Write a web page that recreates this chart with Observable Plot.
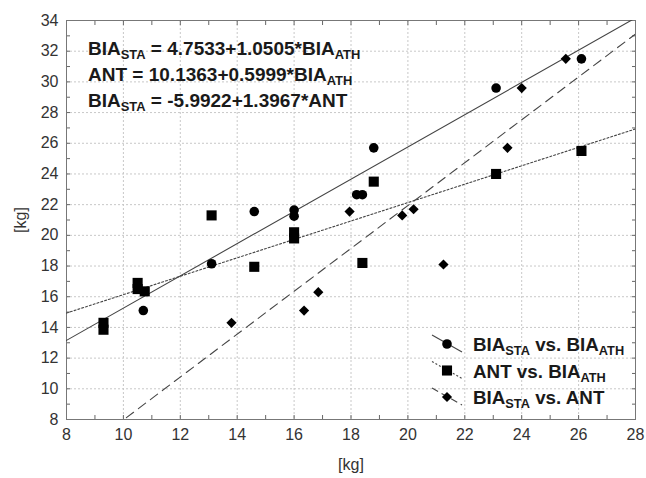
<!DOCTYPE html>
<html>
<head>
<meta charset="utf-8">
<script src="https://cdn.jsdelivr.net/npm/d3@7"></script>
<script src="https://cdn.jsdelivr.net/npm/@observablehq/plot@0.6"></script>
<style>
  html, body { margin: 0; padding: 0; background: #fff; }
  svg { display: block; }
</style>
</head>
<body>
<div id="chart"></div>
<script>
// BIA_STA vs. BIA_ATH (circles)
const circleX = [10.7, 13.1, 14.6, 16.0, 16.0, 18.2, 18.4, 18.8, 23.1, 26.1];
const circleY = [15.1, 18.15, 21.55, 21.65, 21.25, 22.65, 22.65, 25.7, 29.6, 31.5];
// ANT vs. BIA_ATH (squares)
const squareX = [9.3, 9.3, 10.5, 10.5, 10.75, 13.1, 14.6, 16.0, 16.0, 18.4, 18.8, 23.1, 26.1];
const squareY = [14.3, 13.85, 16.9, 16.5, 16.35, 21.3, 17.95, 20.2, 19.8, 18.2, 23.5, 24.0, 25.5];
// BIA_STA vs. ANT (diamonds)
const diamondX = [13.8, 16.35, 16.85, 17.95, 19.8, 20.2, 21.25, 23.5, 24.0, 25.55];
const diamondY = [14.3, 15.1, 16.3, 21.55, 21.3, 21.7, 18.1, 25.7, 29.6, 31.5];

// regression equations
const eqY = [["BIA", "STA"], ["ANT", ""], ["BIA", "STA"]];
const eqX = [["BIA", "ATH"], ["BIA", "ATH"], ["ANT", ""]];
const intercepts = [4.7533, 10.1363, -5.9922];
const slopes = [1.0505, 0.5999, 1.3967];
const lineDash = ["none", "2,2", "9,6"];
const legendDash = [null, "2,2", "7,4"];
const symbols = [d3.symbolCircle, d3.symbolSquare, d3.symbolDiamond2];
const symbolR = [4.8, 5.7, 4.6];

const xTicks = d3.range(8, 29, 2);
const yTicks = d3.range(8, 35, 2);
const xDomain = [8, 28];
const yDomain = [8, 34];

const pts = [
  ...circleX.map((x, i) => ({x, y: circleY[i], s: 0})),
  ...squareX.map((x, i) => ({x, y: squareY[i], s: 1})),
  ...diamondX.map((x, i) => ({x, y: diamondY[i], s: 2}))
];
const fitLines = [];
intercepts.forEach((a, k) => xDomain.forEach(x => fitLines.push({k, x, y: a + slopes[k] * x})));

const W = 646, H = 478;
const mL = 66, mR = 11, mT = 20, mB = 59;
const axisFont = "Liberation Sans, Arial, sans-serif";

const marks = [
  Plot.gridX(xTicks, {stroke: "#c8c8c8", strokeOpacity: 1, strokeDasharray: "2,2"}),
  Plot.gridY(yTicks, {stroke: "#c8c8c8", strokeOpacity: 1, strokeDasharray: "2,2"}),
  Plot.axisX(d3.range(8, 29, 1), {anchor: "bottom", tickSize: -4, text: null, stroke: "#666", label: null}),
  Plot.axisX(d3.range(8, 29, 1), {anchor: "top", tickSize: -4, text: null, stroke: "#666", label: null}),
  Plot.axisY(d3.range(8, 35, 1), {anchor: "left", tickSize: -4, text: null, stroke: "#666", label: null}),
  Plot.axisY(d3.range(8, 35, 1), {anchor: "right", tickSize: -4, text: null, stroke: "#666", label: null}),
  Plot.axisX(xTicks, {anchor: "bottom", tickSize: 0, tickPadding: 9, fontSize: 16, fill: "#333",
    label: "[kg]", labelAnchor: "center", labelArrow: "none", labelOffset: 50}),
  Plot.axisY(yTicks, {anchor: "left", tickSize: 0, tickPadding: 8, fontSize: 16, fill: "#333",
    label: "[kg]", labelAnchor: "center", labelArrow: "none", labelOffset: 52}),
  Plot.frame({stroke: "#777"}),
  ...intercepts.map((a, k) => Plot.line(fitLines.filter(d => d.k === k), {
    x: "x", y: "y", stroke: "#444", strokeWidth: 1.1, strokeDasharray: lineDash[k], clip: true
  })),
  Plot.dot(pts.filter(d => d.s === 0), {x: "x", y: "y", symbol: "circle", r: symbolR[0], fill: "#000", stroke: "none"}),
  Plot.dot(pts.filter(d => d.s === 1), {x: "x", y: "y", symbol: "square", r: symbolR[1], fill: "#000", stroke: "none"}),
  Plot.dot(pts.filter(d => d.s === 2), {x: "x", y: "y", symbol: "diamond2", r: symbolR[2], fill: "#000", stroke: "none"})
];

const svg = Plot.plot({
  width: W, height: H,
  marginLeft: mL, marginRight: mR, marginTop: mT, marginBottom: mB,
  style: {fontFamily: axisFont, color: "#222", background: "#fff"},
  x: {domain: xDomain},
  y: {domain: yDomain},
  marks
});
document.getElementById("chart").appendChild(svg);

const root = d3.select(svg);
const fmt = v => (v < 0 ? "-" : "") + Math.abs(v).toFixed(4);

function richText(g, x, y, parts, size) {
  const t = g.append("text").attr("x", x).attr("y", y)
    .attr("text-anchor", "start")
    .attr("font-family", axisFont).attr("font-weight", "bold")
    .attr("font-size", size).attr("fill", "#1a1a1a");
  let shifted = false;
  const shift = Math.round(size * 0.22);
  parts.forEach(([s, sub]) => {
    const ts = t.append("tspan").text(s);
    if (sub) {
      ts.attr("font-size", size * 0.68).attr("dy", shift);
      shifted = true;
    } else if (shifted) {
      ts.attr("dy", -shift);
      shifted = false;
    }
  });
  return t;
}

// equations
const eqG = root.append("g");
intercepts.forEach((a, k) => {
  const parts = [[eqY[k][0]]];
  if (eqY[k][1]) parts.push([eqY[k][1], true]);
  parts.push([` = ${fmt(a)}+${slopes[k].toFixed(4)}*${eqX[k][0]}`]);
  if (eqX[k][1]) parts.push([eqX[k][1], true]);
  richText(eqG, 88, 55 + k * 26, parts, 19);
});

// legend
const legG = root.append("g");
intercepts.forEach((a, k) => {
  const cy = 344 + k * 26.5;
  const cx = 447;
  legG.append("line").attr("x1", cx - 15).attr("y1", cy - 9).attr("x2", cx + 15).attr("y2", cy + 8)
    .attr("stroke", "#444").attr("stroke-width", 1.1)
    .attr("stroke-dasharray", legendDash[k]);
  legG.append("path").attr("transform", `translate(${cx},${cy})`)
    .attr("d", d3.symbol(symbols[k], Math.PI * symbolR[k] ** 2)())
    .attr("fill", "#000");
  const parts = [[eqY[k][0]]];
  if (eqY[k][1]) parts.push([eqY[k][1], true]);
  parts.push([" vs. " + eqX[k][0]]);
  if (eqX[k][1]) parts.push([eqX[k][1], true]);
  richText(legG, 473, cy + 7, parts, 18.8);
});
</script>
</body>
</html>
